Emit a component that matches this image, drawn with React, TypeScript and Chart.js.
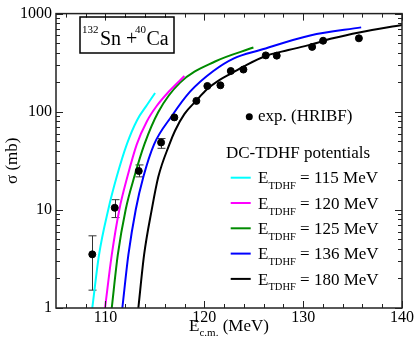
import React, { useEffect, useRef } from 'react';
import { Chart, registerables } from 'chart.js';
Chart.register(...registerables);

// Experimental data (HRIBF)
const expE = [108.67, 110.94, 113.37, 115.63, 116.97, 119.2, 120.31, 121.63, 122.68, 123.96, 126.22, 127.33, 130.91, 132.02, 135.64];
const expSigma = [3.52, 10.5, 24.9, 48.6, 87.6, 129, 183, 186, 260, 269, 375, 373, 458, 529, 560];
const expErrLow = [1.52, 8.35, 21.7, 42.4, null, null, null, null, null, null, null, null, null, null, null];
const expErrHigh = [5.44, 12.7, 28.7, 53.3, null, null, null, null, null, null, null, null, null, null, null];

// DC-TDHF curves
const e115 = [108.67, 109.35, 110.29, 111.14, 112.16, 113.2, 114.2, 115.02];
const s115 = [1, 3.47, 10.1, 21.7, 46.5, 82, 117, 155];
const e120 = [109.96, 110.64, 111.41, 112.22, 113.17, 114.2, 115.2, 116.4, 117.99];
const s120 = [1, 3.47, 10.1, 21.7, 46.5, 80, 115, 160, 231];
const e125 = [110.64, 111.25, 112.05, 112.92, 113.94, 115.35, 117.55, 121.09, 124.97];
const s125 = [1, 3.47, 10.1, 21.7, 46.5, 99.5, 198, 325, 451];
const e136 = [111.71, 112.32, 113.07, 113.84, 114.92, 116.7, 118.56, 120.92, 123.0, 125.65, 130.71, 135.87];
const s136 = [1, 3.47, 10.1, 21.7, 46.5, 90, 160, 260, 350, 425, 599, 724];
const e180 = [113.33, 113.91, 114.69, 115.35, 116.47, 117.04, 118.0, 119.2, 120.3, 121.6, 122.7, 124.0, 126.2, 128.5, 130.7, 133.0, 135.8, 140.0];
const s180 = [1, 3.47, 10.1, 21.7, 46.5, 64, 95, 130, 170, 212, 245, 290, 370, 425, 480, 560, 646, 765];

const xMajor = [110, 120, 130, 140];
const xMinor = [106, 108, 112, 114, 116, 118, 122, 124, 126, 128, 132, 134, 136, 138];
const yMajor = [1, 10, 100, 1000];

const curveLabels = ['115', '120', '125', '136', '180'];
const curveColors = ['#00ffff', '#ff00ff', '#008b00', '#0000ff', '#000000'];

const SERIF = "'Liberation Serif', 'DejaVu Serif', serif";

const toXY = (xs: number[], ys: number[]) => xs.map((x, i) => ({ x, y: ys[i] }));

const overlay = {
  id: 'overlay',
  beforeDatasetsDraw(chart: any) {
    const ctx = chart.ctx;
    const xs = chart.scales.x;
    const ys = chart.scales.y;
    ctx.save();
    ctx.strokeStyle = '#333';
    ctx.lineWidth = 1;
    expE.forEach((e, i) => {
      const lo = expErrLow[i];
      const hi = expErrHigh[i];
      if (lo == null || hi == null) return;
      const px = Math.round(xs.getPixelForValue(e)) + 0.5;
      const y1 = ys.getPixelForValue(lo);
      const y2 = ys.getPixelForValue(hi);
      ctx.beginPath();
      ctx.moveTo(px, y1);
      ctx.lineTo(px, y2);
      ctx.moveTo(px - 4, y1);
      ctx.lineTo(px + 4, y1);
      ctx.moveTo(px - 4, y2);
      ctx.lineTo(px + 4, y2);
      ctx.stroke();
    });
    ctx.restore();
  },
  afterDraw(chart: any) {
    const ctx = chart.ctx;
    const ca = chart.chartArea;
    const xs = chart.scales.x;
    const ys = chart.scales.y;
    ctx.save();
    // frame
    ctx.strokeStyle = '#222';
    ctx.lineWidth = 1.5;
    ctx.strokeRect(ca.left, ca.top, ca.right - ca.left, ca.bottom - ca.top);
    // ticks
    ctx.lineWidth = 1;
    ctx.beginPath();
    const vt = (v: number, len: number) => {
      const px = Math.round(xs.getPixelForValue(v)) + 0.5;
      ctx.moveTo(px, ca.bottom);
      ctx.lineTo(px, ca.bottom - len);
      ctx.moveTo(px, ca.top);
      ctx.lineTo(px, ca.top + len);
    };
    const ht = (v: number, len: number) => {
      const py = Math.round(ys.getPixelForValue(v)) + 0.5;
      ctx.moveTo(ca.left, py);
      ctx.lineTo(ca.left + len, py);
      ctx.moveTo(ca.right, py);
      ctx.lineTo(ca.right - len, py);
    };
    xMajor.forEach((v) => vt(v, 7));
    xMinor.forEach((v) => vt(v, 4));
    yMajor.forEach((v) => ht(v, 7));
    [1, 10, 100].forEach((d) => {
      for (let k = 2; k <= 9; k++) ht(d * k, 4);
    });
    ctx.stroke();

    ctx.fillStyle = '#000';
    // y title
    ctx.save();
    ctx.translate(13, (ca.top + ca.bottom) / 2);
    ctx.rotate(-Math.PI / 2);
    ctx.font = `17px ${SERIF}`;
    ctx.textAlign = 'center';
    ctx.textBaseline = 'middle';
    ctx.fillText('σ (mb)', 0, 0);
    ctx.restore();

    // x title
    ctx.textAlign = 'left';
    ctx.textBaseline = 'alphabetic';
    const big = `17px ${SERIF}`;
    const small = `11px ${SERIF}`;
    ctx.font = big;
    const wE = ctx.measureText('E').width;
    const wM = ctx.measureText(' (MeV)').width;
    ctx.font = small;
    const wS = ctx.measureText('c.m.').width;
    let x0 = (ca.left + ca.right) / 2 - (wE + wS + wM) / 2;
    ctx.font = big;
    ctx.fillText('E', x0, 331);
    ctx.font = small;
    ctx.fillText('c.m.', x0 + wE, 336);
    ctx.font = big;
    ctx.fillText(' (MeV)', x0 + wE + wS, 331);

    // inset box
    ctx.lineWidth = 1.5;
    ctx.strokeStyle = '#000';
    ctx.strokeRect(80, 17, 94, 36);
    ctx.font = `11px ${SERIF}`;
    ctx.fillText('132', 82, 33);
    ctx.fillText('40', 135, 33);
    ctx.font = `20px ${SERIF}`;
    ctx.fillText('Sn +', 100, 45);
    ctx.fillText('Ca', 146.5, 45);

    // legend
    ctx.beginPath();
    ctx.arc(249.3, 116.7, 3.5, 0, Math.PI * 2);
    ctx.fill();
    ctx.font = big;
    ctx.fillText('exp. (HRIBF)', 258, 120.5);
    ctx.fillText('DC-TDHF potentials', 226, 157.5);
    const sub = `10.5px ${SERIF}`;
    curveLabels.forEach((lab, i) => {
      const ly = 177.7 + i * 25.3;
      ctx.strokeStyle = curveColors[i];
      ctx.lineWidth = 2;
      ctx.beginPath();
      ctx.moveTo(230.7, ly);
      ctx.lineTo(250.7, ly);
      ctx.stroke();
      let tx = 258;
      ctx.font = big;
      ctx.fillText('E', tx, ly + 5.6);
      tx += ctx.measureText('E').width;
      ctx.font = sub;
      ctx.fillText('TDHF', tx, ly + 11.5);
      tx += ctx.measureText('TDHF').width;
      ctx.font = big;
      ctx.fillText(` = ${lab} MeV`, tx, ly + 5.6);
    });
    ctx.restore();
  },
};

export default function App() {
  const ref = useRef<HTMLCanvasElement | null>(null);
  useEffect(() => {
    if (!ref.current) return;
    const curveSets = [
      [e115, s115],
      [e120, s120],
      [e125, s125],
      [e136, s136],
      [e180, s180],
    ].map(([xs, ys], i) => ({
      type: 'line' as const,
      data: toXY(xs as number[], ys as number[]),
      borderColor: curveColors[i],
      borderWidth: 2,
      pointRadius: 0,
      fill: false,
      cubicInterpolationMode: 'monotone' as const,
    }));
    const chart = new Chart(ref.current, {
      type: 'line',
      data: {
        datasets: [
          {
            type: 'scatter' as const,
            data: toXY(expE, expSigma),
            backgroundColor: '#000',
            borderColor: '#000',
            pointRadius: 3.5,
            showLine: false,
          } as any,
          ...curveSets,
        ],
      },
      options: {
        animation: false,
        responsive: false,
        maintainAspectRatio: false,
        events: [],
        layout: { padding: { top: 6, right: 12, left: 0, bottom: 0 } },
        plugins: { legend: { display: false }, tooltip: { enabled: false }, title: { display: false } },
        scales: {
          x: {
            type: 'linear',
            min: 105,
            max: 140,
            afterBuildTicks: (s: any) => {
              s.ticks = xMajor.map((v) => ({ value: v }));
            },
            afterFit: (s: any) => {
              s.height = 39;
            },
            grid: { display: false, drawTicks: false },
            border: { display: false },
            ticks: {
              color: '#000',
              font: { family: SERIF, size: 16 },
              padding: 0,
              maxRotation: 0,
              autoSkip: false,
              callback: (v: any) => String(v),
            },
          },
          y: {
            type: 'logarithmic',
            min: 1,
            max: 1000,
            afterBuildTicks: (s: any) => {
              s.ticks = yMajor.map((v) => ({ value: v }));
            },
            afterFit: (s: any) => {
              s.width = 56;
            },
            grid: { display: false, drawTicks: false },
            border: { display: false },
            ticks: {
              color: '#000',
              font: { family: SERIF, size: 16 },
              padding: 4,
              autoSkip: false,
              callback: (v: any) => String(v),
            },
          },
        },
      },
      plugins: [overlay],
    } as any);
    return () => chart.destroy();
  }, []);
  return (
    <div style={{ position: 'fixed', left: 0, top: 0, width: 414, height: 347, background: '#fff' }}>
      <canvas ref={ref} width={414} height={347} style={{ display: 'block', width: 414, height: 347 }} />
    </div>
  );
}
